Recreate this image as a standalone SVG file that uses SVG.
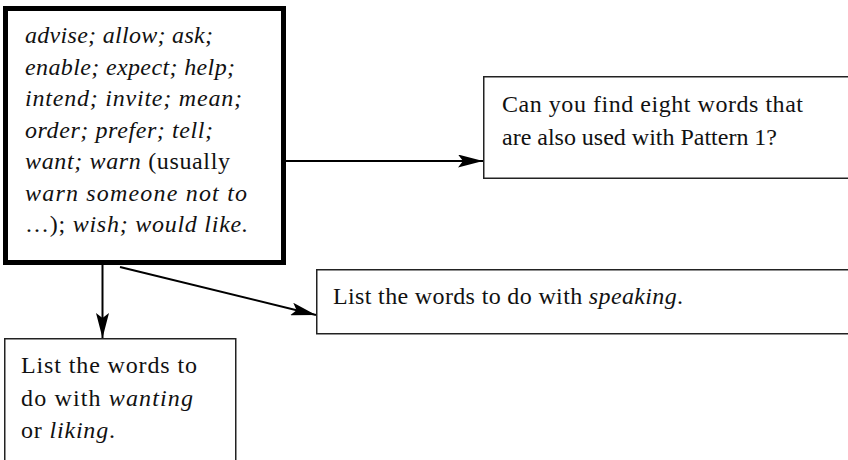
<svg xmlns="http://www.w3.org/2000/svg" width="848" height="460" viewBox="0 0 848 460">
  <style>
    text { font-family: "Liberation Serif", "Times New Roman", serif; font-size: 24px; fill: #111; }
    .it { font-style: italic; }
    .box { fill: #fff; stroke: #222; stroke-width: 1.5; }
    .main { fill: #fff; stroke: #000; stroke-width: 5; }
    .conn { stroke: #000; stroke-width: 2; fill: none; }
  </style>
  <defs>
    <marker id="arrow" viewBox="0 0 25 13" refX="25" refY="6.5" markerWidth="25" markerHeight="13" markerUnits="userSpaceOnUse" orient="auto">
      <path d="M0,0 L25,6.5 L0,13 L5,6.5 Z" fill="#000"/>
    </marker>
  </defs>

  <rect width="848" height="460" fill="#fff"/>

  <g id="connectors">
    <line class="conn" x1="286" y1="161" x2="483" y2="161" marker-end="url(#arrow)"/>
    <line class="conn" x1="120" y1="267" x2="316" y2="315" marker-end="url(#arrow)"/>
    <line class="conn" x1="102.5" y1="265" x2="102.5" y2="338" marker-end="url(#arrow)"/>
  </g>

  <g id="verbs">
    <rect class="main" x="5.5" y="8.5" width="278" height="254"/>
    <text x="25" y="43" class="it" textLength="188" lengthAdjust="spacing">advise; allow; ask;</text>
    <text x="25" y="75" class="it" textLength="210" lengthAdjust="spacing">enable; expect; help;</text>
    <text x="25" y="106" class="it" textLength="217" lengthAdjust="spacing">intend; invite; mean;</text>
    <text x="25" y="138" class="it" textLength="188" lengthAdjust="spacing">order; prefer; tell;</text>
    <text x="25" y="169" textLength="205" lengthAdjust="spacing"><tspan class="it">want; warn</tspan> (usually</text>
    <text x="25" y="201" class="it" textLength="222" lengthAdjust="spacing">warn someone not to</text>
    <text x="25" y="232" textLength="223" lengthAdjust="spacing">…); <tspan class="it">wish; would like.</tspan></text>
  </g>

  <g id="pattern-question">
    <rect class="box" x="483.75" y="76.75" width="380" height="101.5"/>
    <text x="502" y="112" textLength="301" lengthAdjust="spacing">Can you find eight words that</text>
    <text x="502" y="145" textLength="275" lengthAdjust="spacing">are also used with Pattern 1?</text>
  </g>

  <g id="speaking-task">
    <rect class="box" x="316.75" y="269.75" width="560" height="64"/>
    <text x="333" y="304" textLength="350" lengthAdjust="spacing">List the words to do with <tspan class="it">speaking</tspan>.</text>
  </g>

  <g id="wanting-task">
    <rect class="box" x="4.75" y="338.75" width="231" height="140"/>
    <text x="21" y="373" textLength="176" lengthAdjust="spacing">List the words to</text>
    <text x="21" y="406" textLength="172" lengthAdjust="spacing">do with <tspan class="it">wanting</tspan></text>
    <text x="21" y="438" textLength="94" lengthAdjust="spacing">or <tspan class="it">liking</tspan>.</text>
  </g>
</svg>
